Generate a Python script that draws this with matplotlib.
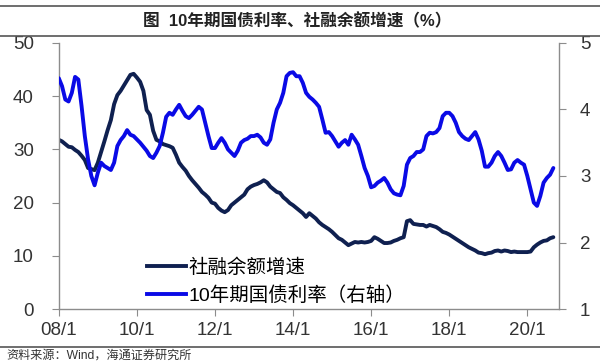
import matplotlib
matplotlib.use("Agg")
import matplotlib.pyplot as plt
from matplotlib.lines import Line2D

plt.rcParams['font.family'] = ['Liberation Sans', 'Noto Sans CJK SC', 'DejaVu Sans']

# 月度数据 2008/01 - 2020/09
tsf_growth = [
    31.8, 31.5, 31.0, 30.5, 30.4, 29.9, 29.5, 28.8, 28.0, 26.5, 26.3, 26.1,
    27.5, 29.5, 31.5, 33.6, 35.5, 38.5, 40.2, 41.0, 42.0, 43.0, 44.0, 44.2,
    43.5, 42.7, 41.0, 37.4, 36.5, 33.5, 31.8, 31.5, 31.0, 30.8, 30.6, 30.3,
    29.0, 27.5, 26.7, 26.0, 25.0, 24.2, 23.5, 22.8, 22.0, 21.5, 20.9, 20.0,
    19.8, 19.0, 18.5, 18.2, 18.6, 19.5, 20.0, 20.5, 21.0, 21.5, 22.5, 23.0,
    23.3, 23.5, 23.8, 24.2, 23.8, 23.0, 22.5, 22.0, 21.8, 21.0, 20.5, 19.9,
    19.5, 19.0, 18.5, 18.0, 17.3, 18.0, 17.5, 17.0, 16.3, 15.8, 15.4, 15.0,
    14.5, 13.9, 13.3, 13.0, 12.5, 12.0, 12.3, 12.6, 12.5, 12.6, 12.5, 12.6,
    12.8, 13.5, 13.2, 12.8, 12.4, 12.4, 12.5, 12.8, 13.0, 13.3, 13.5, 16.5,
    16.7, 16.0, 15.9, 15.8, 15.8, 15.5, 15.8, 15.6, 15.4, 15.0, 14.5, 14.3,
    14.0, 13.6, 13.2, 12.8, 12.4, 12.0, 11.6, 11.3, 11.0, 10.6, 10.5, 10.3,
    10.5, 10.6, 10.9, 11.0, 10.8, 11.0, 10.9, 10.7, 10.8, 10.7, 10.7, 10.7,
    10.7, 10.8, 11.6, 12.1, 12.5, 12.8, 12.9, 13.3, 13.5,
]
bond_10y = [
    4.47, 4.35, 4.15, 4.12, 4.25, 4.49, 4.45, 4.05, 3.60, 3.25, 3.00, 2.86,
    3.05, 3.20, 3.15, 3.12, 3.09, 3.20, 3.45, 3.54, 3.60, 3.69, 3.62, 3.60,
    3.55, 3.50, 3.44, 3.38, 3.30, 3.27, 3.35, 3.45, 3.65, 3.89, 3.95, 3.92,
    4.00, 4.07, 3.98, 3.90, 3.87, 3.92, 3.98, 4.04, 4.00, 3.80, 3.60, 3.42,
    3.42, 3.50, 3.57, 3.50, 3.40, 3.35, 3.30, 3.38, 3.50, 3.54, 3.56, 3.60,
    3.60, 3.62, 3.58, 3.50, 3.47, 3.55, 3.80, 4.00, 4.10, 4.25, 4.50, 4.55,
    4.56, 4.50, 4.50, 4.40, 4.25, 4.19, 4.15, 4.10, 4.04, 3.85, 3.65, 3.66,
    3.60, 3.52, 3.44, 3.50, 3.54, 3.47, 3.62, 3.55, 3.47, 3.30, 3.12, 3.00,
    2.83, 2.85, 2.90, 2.93, 2.97, 2.90, 2.80, 2.74, 2.72, 2.71, 2.85, 3.17,
    3.27, 3.30, 3.36, 3.36, 3.40, 3.60, 3.65, 3.64, 3.66, 3.72, 3.90, 3.95,
    3.95, 3.90, 3.80, 3.66, 3.60, 3.56, 3.54, 3.60, 3.66, 3.55, 3.38, 3.14,
    3.14, 3.20, 3.30, 3.36, 3.30, 3.20, 3.09, 3.10, 3.20, 3.24, 3.20, 3.17,
    3.00, 2.80, 2.60, 2.55, 2.70, 2.90, 2.97, 3.02, 3.12,
]
tick_pos = [0, 24, 48, 72, 96, 120, 144]
tick_labels = ['08/1', '10/1', '12/1', '14/1', '16/1', '18/1', '20/1']

navy = '#0f2050'
blue = '#0a0ae6'
grey = '#8c8c8c'
months = list(range(len(tsf_growth)))

fig = plt.figure(figsize=(6, 3.61), dpi=100)
ax = fig.add_axes([0.098, 0.144, 0.834, 0.737])
ax2 = ax.twinx()

ax.plot(months, tsf_growth, color=navy, lw=2.8, solid_capstyle='round')
ax2.plot(months, bond_10y, color=blue, lw=2.8, solid_capstyle='round')

ax.set_xlim(0, 153.8)
ax.set_ylim(0, 50)
ax2.set_ylim(1, 5)
ax.set_yticks([0, 10, 20, 30, 40, 50])
ax2.set_yticks([1, 2, 3, 4, 5])
ax.set_xticks(tick_pos)
ax.set_xticklabels(tick_labels)

for a in (ax, ax2):
    for s in a.spines.values():
        s.set_color(grey)
        s.set_linewidth(1.0)
    a.spines['top'].set_visible(False)
ax.spines['right'].set_visible(False)
ax2.spines['left'].set_visible(False)
ax2.spines['bottom'].set_visible(False)

ax.tick_params(axis='y', direction='out', length=5, color=grey, labelsize=13.5,
               labelcolor='#333333', pad=13)
ax.tick_params(axis='x', direction='out', length=5, color=grey, labelsize=13.5,
               labelcolor='#333333', pad=4)
ax2.tick_params(axis='y', direction='out', length=5, color=grey, labelsize=13.5,
                labelcolor='#333333', pad=10)

handles = [Line2D([], [], color=navy, lw=2.8), Line2D([], [], color=blue, lw=2.8)]
labels = ['社融余额增速', '10年期国债利率（右轴）']
ax.legend(handles, labels, loc='lower left', bbox_to_anchor=(0.15, -0.035),
          frameon=False, fontsize=14, handlelength=2.0, handletextpad=0.1,
          labelspacing=0.45, borderaxespad=0.3)

# 标题与来源
fig.add_artist(Line2D([0.0, 1.0], [0.983, 0.983], color='#555555', lw=1.2))
fig.add_artist(Line2D([0.0, 1.0], [0.900, 0.900], color='#555555', lw=1.2))
fig.text(0.495, 0.942, '图  10年期国债利率、社融余额增速（%）', ha='center',
         va='center', fontsize=12, fontweight='bold', color='#222222')
fig.add_artist(Line2D([0.0, 1.0], [0.039, 0.039], color='#555555', lw=1.2))
fig.text(0.01, 0.016, '资料来源：Wind，海通证券研究所', ha='left', va='center',
         fontsize=8.7, color='#333333')

fig.savefig('out.png', dpi=100)
